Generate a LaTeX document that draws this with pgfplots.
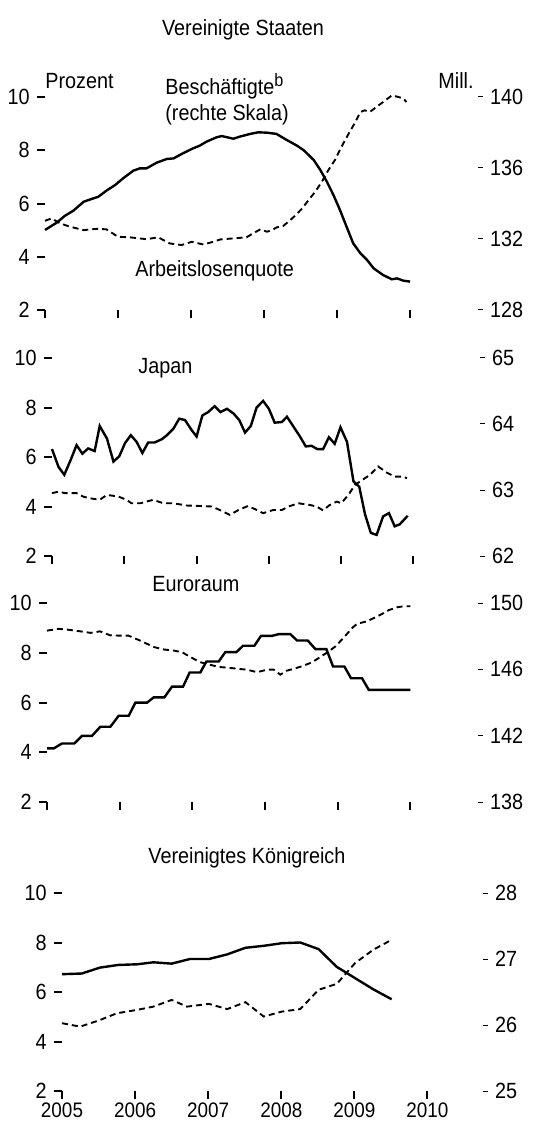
\documentclass[border=0pt]{standalone}
\usepackage{fontspec}
\setmainfont{Liberation Sans}[FakeStretch=0.9]
\usepackage{pgfplots}
\pgfplotsset{compat=1.18}

\newcommand{\lbl}{\fontsize{11}{13}\selectfont}

\pgfplotsset{
  lpanel/.style={
    scale only axis, ymin=2, ymax=10,
    axis x line*=bottom, axis y line*=left,
    axis line style={draw=none},
    tick align=outside, major tick length=3.8pt,
    every tick/.style={black, line width=1pt},
    xtick={2005,2006,2007,2008,2009,2010}, xticklabels={},
    ytick={2,4,6,8,10},
    tick label style={font=\lbl},
    yticklabel style={inner sep=1pt, xshift=-2.7pt},
    /pgf/number format/assume math mode=true,
    /pgf/number format/1000 sep={},
    clip=false,
  },
  rpanel/.style={
    scale only axis,
    axis x line=none, axis y line*=right,
    axis line style={draw=none},
    tick align=outside, major tick length=2.5pt,
    every tick/.style={black, line width=0.5pt},
    tick label style={font=\lbl},
    /pgf/number format/assume math mode=true,
    clip=false,
  },
  unemp/.style={black, line width=0.95pt, dash pattern=on 3pt off 2pt},
  empl/.style={black, line width=1.2pt},
}

\begin{document}
\begin{tikzpicture}[x=0.5pt, y=-0.5pt, font=\lbl]
\useasboundingbox (0,0) rectangle (547,1122);

% ---------------- Vereinigte Staaten
\begin{axis}[lpanel, at={(22.5pt,-155pt)}, anchor=south west,
  width=216.5pt, height=106.5pt, xmin=2005, xmax=2010.93]
\addplot[unemp] coordinates {
 (2005.00,5.35)(2005.09,5.44)(2005.21,5.25)(2005.34,5.13)(2005.53,5.00)(2005.71,5.05)
 (2005.84,5.03)(2006.00,4.75)(2006.16,4.73)(2006.39,4.66)(2006.55,4.73)(2006.71,4.50)
 (2006.87,4.44)(2007.01,4.56)(2007.17,4.46)(2007.30,4.56)(2007.40,4.65)(2007.58,4.69)
 (2007.76,4.73)(2007.85,4.88)(2007.95,5.03)(2008.04,4.94)(2008.11,5.00)(2008.17,5.10)
 (2008.26,5.15)(2008.36,5.38)(2008.42,5.53)(2008.52,5.81)(2008.61,6.13)(2008.70,6.44)
 (2008.79,6.81)(2008.88,7.25)(2008.97,7.63)(2009.06,8.13)(2009.16,8.63)(2009.25,9.06)
 (2009.32,9.44)(2009.38,9.50)(2009.45,9.44)(2009.54,9.63)(2009.63,9.81)(2009.75,10.06)
 (2009.84,10.00)(2009.91,9.94)(2009.95,9.81)};
\end{axis}
\begin{axis}[rpanel, at={(22.5pt,-155pt)}, anchor=south west,
  width=216.5pt, height=106.5pt, xmin=2005, xmax=2010.93,
  ymin=128, ymax=140, ytick={128,132,136,140}]
\addplot[empl] coordinates {
 (2005.00,132.51)(2005.16,132.92)(2005.27,133.30)(2005.39,133.60)(2005.53,134.10)
 (2005.62,134.23)(2005.73,134.38)(2005.84,134.72)(2005.96,135.04)(2006.07,135.42)
 (2006.21,135.85)(2006.30,135.98)(2006.39,135.98)(2006.53,136.30)(2006.67,136.51)
 (2006.76,136.54)(2006.89,136.83)(2007.03,137.11)(2007.12,137.26)(2007.21,137.48)
 (2007.35,137.73)(2007.42,137.80)(2007.58,137.65)(2007.67,137.77)(2007.81,137.92)
 (2007.92,138.01)(2008.04,137.99)(2008.17,137.92)(2008.31,137.58)(2008.45,137.26)
 (2008.54,137.01)(2008.68,136.45)(2008.77,135.89)(2008.86,135.23)(2008.95,134.48)
 (2009.04,133.63)(2009.13,132.69)(2009.22,131.76)(2009.32,131.19)(2009.41,130.82)
 (2009.50,130.35)(2009.63,129.97)(2009.75,129.73)(2009.82,129.78)(2009.91,129.65)
 (2010.00,129.60)};
\end{axis}

% ---------------- Japan
\begin{axis}[lpanel, at={(26pt,-278pt)}, anchor=south west,
  width=214pt, height=99pt, xmin=2005, xmax=2010.92]
\addplot[unemp] coordinates {
 (2005.00,4.54)(2005.09,4.60)(2005.18,4.54)(2005.34,4.54)(2005.43,4.40)(2005.53,4.33)
 (2005.66,4.27)(2005.76,4.47)(2005.92,4.40)(2006.03,4.27)(2006.10,4.13)(2006.22,4.13)
 (2006.31,4.20)(2006.40,4.27)(2006.54,4.13)(2006.68,4.13)(2006.86,4.04)(2007.05,4.02)
 (2007.21,4.00)(2007.32,3.86)(2007.46,3.66)(2007.58,3.86)(2007.71,4.02)(2007.81,3.89)
 (2007.92,3.73)(2008.06,3.86)(2008.18,3.86)(2008.27,4.00)(2008.41,4.13)(2008.57,4.06)
 (2008.66,4.00)(2008.75,3.84)(2008.84,4.06)(2008.94,4.20)(2009.00,4.13)(2009.10,4.47)
 (2009.19,4.87)(2009.28,5.05)(2009.40,5.28)(2009.51,5.62)(2009.63,5.37)(2009.74,5.21)
 (2009.86,5.21)(2009.91,5.14)};
\end{axis}
\begin{axis}[rpanel, at={(26pt,-278pt)}, anchor=south west,
  width=214pt, height=99pt, xmin=2005, xmax=2010.92,
  ymin=62, ymax=65, ytick={62,63,64,65}]
\addplot[empl] coordinates {
 (2005.00,63.62)(2005.09,63.35)(2005.17,63.23)(2005.26,63.46)(2005.34,63.68)(2005.42,63.55)
 (2005.50,63.63)(2005.59,63.59)(2005.66,63.97)(2005.76,63.78)(2005.85,63.43)(2005.93,63.51)
 (2006.01,63.71)(2006.09,63.83)(2006.17,63.73)(2006.25,63.56)(2006.33,63.72)(2006.42,63.72)
 (2006.52,63.77)(2006.59,63.83)(2006.68,63.93)(2006.76,64.08)(2006.84,64.06)(2006.93,63.91)
 (2007.00,63.81)(2007.08,64.13)(2007.16,64.18)(2007.25,64.27)(2007.33,64.18)(2007.42,64.23)
 (2007.51,64.16)(2007.59,64.06)(2007.67,63.87)(2007.75,63.97)(2007.83,64.25)(2007.92,64.35)
 (2008.00,64.23)(2008.08,64.02)(2008.18,64.03)(2008.25,64.11)(2008.34,63.96)(2008.43,63.81)
 (2008.51,63.66)(2008.59,63.67)(2008.67,63.62)(2008.75,63.62)(2008.83,63.80)(2008.91,63.70)
 (2008.99,63.95)(2009.08,63.73)(2009.17,63.13)(2009.25,63.05)(2009.33,62.63)(2009.41,62.35)
 (2009.49,62.32)(2009.58,62.60)(2009.66,62.65)(2009.74,62.45)(2009.81,62.48)(2009.92,62.61)};
\end{axis}

% ---------------- Euroraum
\begin{axis}[lpanel, at={(23.5pt,-401pt)}, anchor=south west,
  width=215.5pt, height=99.5pt, xmin=2005, xmax=2010.93]
\addplot[unemp] coordinates {
 (2005.00,8.89)(2005.16,8.96)(2005.28,8.93)(2005.46,8.86)(2005.60,8.80)(2005.73,8.86)
 (2005.87,8.70)(2005.99,8.69)(2006.12,8.69)(2006.28,8.49)(2006.47,8.23)(2006.61,8.13)
 (2006.74,8.09)(2006.86,8.02)(2006.97,7.83)(2007.11,7.62)(2007.20,7.55)(2007.36,7.43)
 (2007.52,7.39)(2007.64,7.35)(2007.75,7.32)(2007.89,7.22)(2008.03,7.32)(2008.12,7.32)
 (2008.21,7.12)(2008.30,7.28)(2008.39,7.35)(2008.51,7.46)(2008.65,7.62)(2008.76,7.83)
 (2008.88,8.06)(2008.97,8.26)(2009.08,8.60)(2009.20,9.00)(2009.27,9.17)(2009.40,9.26)
 (2009.50,9.40)(2009.61,9.56)(2009.70,9.71)(2009.82,9.83)(2009.91,9.87)(2010.00,9.87)};
\end{axis}
\begin{axis}[rpanel, at={(23.5pt,-401pt)}, anchor=south west,
  width=215.5pt, height=99.5pt, xmin=2005, xmax=2010.93,
  ymin=138, ymax=150, ytick={138,142,146,150}]
\addplot[empl] coordinates {
 (2005.000,141.23)(2005.092,141.23)(2005.206,141.53)(2005.376,141.53)(2005.482,141.99)
 (2005.619,141.99)(2005.734,142.54)(2005.872,142.54)(2005.986,143.20)(2006.124,143.20)
 (2006.216,143.99)(2006.376,143.99)(2006.468,144.31)(2006.615,144.31)(2006.720,144.96)
 (2006.872,144.96)(2006.963,145.81)(2007.110,145.81)(2007.193,146.47)(2007.362,146.47)
 (2007.454,147.04)(2007.606,147.04)(2007.697,147.42)(2007.853,147.42)(2007.945,148.02)
 (2008.096,148.02)(2008.188,148.12)(2008.349,148.12)(2008.440,147.74)(2008.587,147.74)
 (2008.693,147.22)(2008.844,147.22)(2008.936,146.17)(2009.092,146.17)(2009.183,145.46)
 (2009.335,145.46)(2009.427,144.76)(2010.000,144.76)};
\end{axis}

% ---------------- Vereinigtes Koenigreich
\begin{axis}[lpanel, at={(31pt,-545.5pt)}, anchor=south west,
  width=210.5pt, height=99pt, xmin=2005, xmax=2010.76,
  xticklabels={2005,2006,2007,2008,2009,2010},
  xticklabel style={inner sep=1pt, yshift=-1pt, font=\fontsize{10.5}{12}\selectfont}]
\addplot[unemp] coordinates {
 (2005.00,4.74)(2005.25,4.60)(2005.52,4.87)(2005.75,5.14)(2006.03,5.28)(2006.25,5.41)
 (2006.50,5.68)(2006.71,5.41)(2007.01,5.52)(2007.26,5.31)(2007.51,5.59)(2007.76,5.01)
 (2008.01,5.21)(2008.26,5.31)(2008.51,6.09)(2008.76,6.33)(2009.01,7.17)(2009.26,7.71)
 (2009.51,8.11)};
\end{axis}
\begin{axis}[rpanel, at={(31pt,-545.5pt)}, anchor=south west,
  width=210.5pt, height=99pt, xmin=2005, xmax=2010.76,
  ymin=25, ymax=28, ytick={25,26,27,28}]
\addplot[empl] coordinates {
 (2005.00,26.77)(2005.27,26.78)(2005.52,26.87)(2005.77,26.91)(2006.03,26.92)(2006.25,26.95)
 (2006.50,26.93)(2006.75,27.00)(2007.01,27.00)(2007.26,27.07)(2007.51,27.17)(2007.76,27.20)
 (2008.01,27.24)(2008.26,27.25)(2008.51,27.15)(2008.76,26.88)(2009.01,26.71)(2009.26,26.54)
 (2009.51,26.39)};
\end{axis}

% ---------------- texts
\node[anchor=base, inner sep=0] at (243,36) {Vereinigte Staaten};
\node[anchor=base west, inner sep=0] at (45,89) {Prozent};
\node[anchor=base east, inner sep=0] at (474,89) {Mill.};
\node[anchor=base west, inner sep=0] at (165,95) {Beschäftigte\raisebox{4pt}{\fontsize{9}{10}\selectfont b}};
\node[anchor=base west, inner sep=0] at (165,121) {(rechte Skala)};
\node[anchor=base west, inner sep=0] at (135,277) {Arbeitslosenquote};
\node[anchor=base west, inner sep=0] at (138,373) {Japan};
\node[anchor=base west, inner sep=0] at (152,591) {Euroraum};
\node[anchor=base west, inner sep=0] at (148,863) {Vereinigtes Königreich};
\end{tikzpicture}
\end{document}
